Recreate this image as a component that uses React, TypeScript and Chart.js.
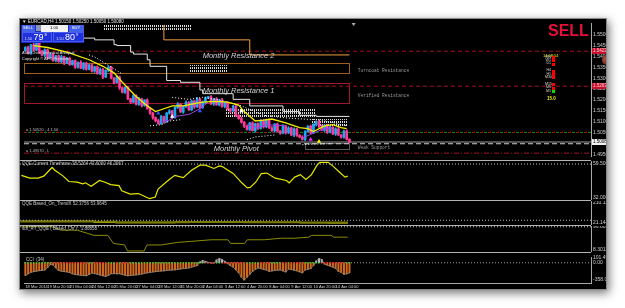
import React, { useEffect, useRef } from "react";
import { Chart, registerables } from "chart.js";

Chart.register(...registerables);

const SANS = '"Liberation Sans", "DejaVu Sans", Arial, sans-serif';
const MONO = '"Liberation Mono", "DejaVu Sans Mono", monospace';

// ---------------- shared time axis (H4 bar index) ----------------
const xMin = -0.5;
const xMax = 204.2;
const timeLabels = [
  "18 Mar 2014", "19 Mar 20:00", "21 Mar 04:00", "24 Mar 12:00", "25 Mar 20:00",
  "27 Mar 04:00", "28 Mar 12:00", "31 Mar 20:00", "2 Apr 04:00", "3 Apr 12:00",
  "4 Apr 20:00", "8 Apr 04:00", "9 Apr 12:00", "10 Apr 20:00", "14 Apr 04:00",
];
const timeLabelBars = [0, 8, 16, 24, 32, 40, 48, 56, 64, 72, 80, 88, 96, 104, 112];

// ---------------- price panel ----------------
const firstOpen = 1.5425;
const closes = [
  1.5440, 1.5415, 1.5452, 1.5428, 1.5460, 1.5420, 1.5405, 1.5430, 1.5392, 1.5410,
  1.5380, 1.5402, 1.5375, 1.5398, 1.5368, 1.5390, 1.5362, 1.5380, 1.5350, 1.5372,
  1.5345, 1.5368, 1.5340, 1.5360, 1.5332, 1.5352, 1.5320, 1.5340, 1.5305, 1.5335,
  1.5350, 1.5300, 1.5280, 1.5305, 1.5255, 1.5235, 1.5258, 1.5205, 1.5190, 1.5220,
  1.5180, 1.5205, 1.5175, 1.5200, 1.5160, 1.5140, 1.5120, 1.5105, 1.5092, 1.5125,
  1.5100, 1.5140, 1.5150, 1.5120, 1.5165, 1.5180, 1.5145, 1.5170, 1.5190, 1.5155,
  1.5195, 1.5168, 1.5205, 1.5165, 1.5190, 1.5210, 1.5215, 1.5182, 1.5205, 1.5178,
  1.5200, 1.5170, 1.5188, 1.5160, 1.5150, 1.5172, 1.5130, 1.5115, 1.5098, 1.5080,
  1.5065, 1.5095, 1.5060, 1.5092, 1.5070, 1.5105, 1.5078, 1.5110, 1.5072, 1.5060,
  1.5090, 1.5058, 1.5048, 1.5080, 1.5050, 1.5072, 1.5040, 1.5068, 1.5038, 1.5030,
  1.5020, 1.5055, 1.5080, 1.5050, 1.5088, 1.5102, 1.5078, 1.5062, 1.5085, 1.5052,
  1.5075, 1.5045, 1.5068, 1.5040, 1.5030, 1.5058, 1.5020, 1.5008,
];
// wick lengths in pips beyond the candle body
const wickUp = [
  4, 6, 3, 8, 5, 2, 7, 4, 3, 6, 5, 2, 4, 7, 3, 5, 6, 2, 4, 3,
  8, 4, 5, 3, 6, 2, 4, 7, 5, 3, 6, 4, 3, 8, 5, 4, 2, 6, 3, 5,
  4, 7, 3, 2, 5, 6, 4, 3, 7, 5, 2, 4, 6, 3, 5, 8, 4, 3, 6, 2,
  5, 4, 7, 3, 6, 4, 2, 5, 3, 6, 4, 8, 3, 5, 2, 4, 6, 3, 7, 4,
  5, 3, 6, 2, 4, 5, 7, 3, 4, 6, 2, 5, 3, 8, 4, 6, 3, 5, 2, 4,
  7, 5, 3, 6, 4, 2, 5, 8, 3, 4, 6, 3, 5, 7, 2, 4, 6, 3,
];
const wickDn = [
  3, 5, 7, 2, 4, 6, 3, 8, 5, 2, 4, 6, 3, 5, 7, 2, 4, 3, 6, 5,
  2, 7, 4, 3, 5, 6, 2, 4, 8, 3, 5, 4, 6, 2, 7, 3, 5, 4, 6, 2,
  3, 5, 7, 4, 2, 6, 8, 5, 3, 4, 6, 2, 5, 7, 3, 4, 2, 6, 5, 3,
  4, 7, 2, 5, 3, 6, 4, 3, 7, 2, 5, 3, 6, 4, 8, 2, 5, 3, 4, 6,
  3, 5, 2, 7, 4, 3, 6, 5, 2, 4, 7, 3, 5, 2, 6, 4, 3, 8, 5, 3,
  4, 6, 2, 5, 3, 7, 4, 2, 6, 5, 3, 4, 7, 2, 5, 6, 3, 4,
];
const priceMin = 1.4944;
const priceMax = 1.5552;
const priceTicks = [1.495, 1.5, 1.505, 1.51, 1.515, 1.52, 1.525, 1.53, 1.535, 1.54, 1.545, 1.55];

const monthlyR2 = 1.5423;
const monthlyR1 = 1.5263;
const monthlyPivot = 1.5;
const weeklyHigh = 1.5052;
const weeklyLow = 1.4957;
const bidPrice = 1.5008;

// zones: [fromBar, toBar, top, bottom]
const turncoatZone = [-0.5, 117, 1.5367, 1.5324];
const verifiedZone = [-0.5, 117, 1.5276, 1.5186];
const weakSupportZone = [101, 117, 1.5005, 1.4975];

const hatchFrom = [28, 59, 72, 103];
const hatchTo = [60, 73, 105, 116];
const hatchTop = [1.5548, 1.5362, 1.516, 1.5112];
const hatchBottom = [1.5518, 1.5332, 1.5125, 1.5074];

const maBars = [3, 8, 15, 23, 28, 32, 35, 40, 44, 47, 50, 53, 57, 60, 64, 68, 73, 77, 79, 83, 86, 89, 94, 99, 102, 104, 108, 111, 114, 116];
const maValues = [
  1.5449, 1.544, 1.5419, 1.5384, 1.5354, 1.5324, 1.5281, 1.5216, 1.5173, 1.5147,
  1.516, 1.5173, 1.5173, 1.5181, 1.519, 1.5194, 1.519, 1.5177, 1.5147, 1.5104,
  1.5108, 1.5113, 1.5095, 1.5074, 1.5069, 1.5056, 1.5082, 1.5087, 1.5074, 1.5069,
];

const stepBars = [14, 25, 32, 33, 38, 39, 44, 45, 51, 56, 63, 64, 75, 81, 93, 99, 105, 111, 117];
const stepValues = [
  1.5496, 1.5483, 1.5475, 1.5453, 1.5449, 1.5419, 1.541, 1.5384, 1.5354, 1.5289,
  1.5281, 1.5246, 1.5229, 1.5203, 1.5173, 1.5147, 1.513, 1.5125, 1.5125,
];
const orangeBars = [50, 81, 111, 117];
const orangeValues = [1.5543, 1.5475, 1.5406, 1.5406];

const purpleBars = [49, 52, 54, 59, 63, 66, 67, 80, 84, 87, 94, 95, 100, 103, 107, 111];
const purpleValues = [1.51, 1.5108, 1.5125, 1.5134, 1.516, 1.519, null, 1.5087, 1.5074, 1.5087, 1.5082, null, 1.5026, 1.5043, 1.5065, 1.5074];

const upperBandBars = [23, 25, 35, 44, 53, 59, 64, 69, 78, 86, 95, 107, 116];
const upperBandValues = [1.5406, 1.5397, 1.5319, null, 1.5212, 1.5203, 1.5212, 1.5203, 1.5173, 1.513, 1.5117, 1.5108, 1.5082];
const lowerBandBars = [45, 49, 52, 56, 60, 80, 83, 90, 95, 100, 110];
const lowerBandValues = [1.5082, 1.5087, 1.5104, 1.511, null, 1.5018, 1.5031, 1.504, null, 1.4996, 1.5];

const signalBars = [48, 53, 63, 78, 103, 106];
const signalValues = [1.514, 1.5125, 1.515, 1.515, 1.502, 1.501];
const signalColors = ["#3050ff", "#ffffff", "#3050ff", "#ffffff", "#ff20ff", "#ffff00"];

// ---------------- oscillator panels ----------------
const qqeBars = [0, 3, 6, 8, 11, 12, 15, 17, 20, 22, 23, 25, 28, 30, 32, 35, 36, 39, 42, 45, 46, 48, 49, 53, 55, 58, 61, 64, 66, 69, 71, 72, 76, 79, 81, 82, 84, 86, 88, 91, 95, 96, 98, 100, 102, 104, 106, 107, 110, 112, 114, 116, 117];
const qqeValues = [
  50.2, 47.9, 47.9, 49.6, 56.7, 54.4, 49.6, 45.2, 44.6, 43.2,
  44.1, 41.2, 46.0, 44.6, 42.6, 41.8, 37.6, 34.8, 35.3, 32.0,
  31.1, 32.5, 39.0, 46.8, 50.2, 48.3, 54.4, 58.6, 58.6, 55.9,
  58.0, 57.4, 51.6, 44.1, 39.9, 40.4, 44.6, 51.6, 52.1, 47.9,
  46.0, 44.1, 48.8, 50.8, 46.8, 50.8, 58.6, 60.9, 60.9, 57.2,
  53.0, 48.8, 49.6,
];
const qqeLevel = 59.5;

const qqe2FastBars = [0, 26, 34, 55, 60, 78, 86, 100, 110, 117];
const qqe2FastValues = [40, 34, 26, 22, 28, 24, 27, 25, 23, 20];
const qqe2SlowBars = [0, 26, 34, 60, 80, 100, 117];
const qqe2SlowValues = [38, 33, 30, 27, 28, 26, 24];
const qqe2Level = 45;

const qqeRtBars = [0, 11, 14, 20, 26, 31, 33, 37, 38, 44, 45, 50, 56, 61, 68, 74, 75, 80, 81, 87, 93, 98, 103, 104, 111, 112, 117];
const qqeRtValues = [97, 97, 84, 84, 64, 64, 33, 27, 4, 4, 27, 27, 37, 41, 47, 47, 33, 33, 47, 47, 53, 53, 57, 64, 64, 57, 57];
const qqeRtLevel = 97;

const cciValues = [
  -265, -230, -200, -185, -175, -165, -160, -150, -100, -40,
  -45, -110, -160, -175, -185, -190, -205, -230, -245, -250,
  -260, -265, -270, -245, -212, -225, -240, -255, -270, -285,
  -260, -228, -225, -230, -228, -245, -260, -270, -265, -258,
  -252, -245, -235, -220, -210, -200, -192, -185, -178, -172,
  -168, -160, -155, -150, -148, -138, -130, -120, -115, -108,
  -90, -75, -60, 20, 48, 30, 10, -5, -10, 60,
  90, 70, 30, -20, -60, -90, -150, -210, -300, -360,
  -300, -240, -180, -140, -108, -120, -140, -150, -180, -170,
  -160, -155, -150, -170, -192, -132, -140, -155, -168, -190,
  -210, -150, -135, -120, -60, 40, 90, 70, -30, -50,
  -70, -90, -120, -180, -200, -240, -230, -210,
];

// ---------------- styling ----------------
const AXIS = "#a8a8a8";
const TICK = "#d0d0d0";
const BULL = "#1ea7f0";
const BEAR = "#ff3a9a";
const PIP = 0.0001;

const pts = (xs: number[], ys: (number | null)[]) => xs.map((x, i) => ({ x, y: ys[i] }));
const hline = (v: number) => [{ x: xMin, y: v }, { x: xMax, y: v }];

function lineDs(data: any[], color: string, width = 1, extra: any = {}) {
  return {
    type: "line", data, borderColor: color, backgroundColor: color, borderWidth: width,
    pointRadius: 0, fill: false, tension: 0, spanGaps: false, ...extra,
  };
}

function yAxis(min: number, max: number, ticks: number[], decimals: number) {
  return {
    type: "linear", position: "right", min, max,
    grid: { display: false, drawTicks: false },
    border: { display: true, color: AXIS, width: 1 },
    ticks: {
      autoSkip: false, padding: 2, color: TICK, font: { size: 5, family: SANS },
      callback: (v: any) => Number(v).toFixed(decimals),
    },
    afterBuildTicks: (s: any) => { s.ticks = ticks.map((value) => ({ value })); },
    afterFit: (s: any) => { s.width = 15; s.paddingTop = 0; s.paddingBottom = 0; },
  };
}

const xHidden = () => ({ type: "linear", min: xMin, max: xMax, display: false, offset: false });

function baseOptions(scales: any) {
  return {
    animation: false, responsive: false, maintainAspectRatio: false, events: [],
    layout: { padding: 0 },
    plugins: { legend: { display: false }, tooltip: { enabled: false } },
    scales,
  };
}

const panelLabel = (text: string) => ({
  id: "panelLabel",
  afterDatasetsDraw(chart: any) {
    const { ctx, chartArea } = chart;
    ctx.save();
    ctx.font = `4.5px ${SANS}`;
    ctx.fillStyle = "#c8c8c8";
    ctx.textBaseline = "top";
    ctx.fillText(text, chartArea.left + 2, chartArea.top + 1);
    ctx.restore();
  },
});

// ---------------- main price chart ----------------
function buildMain() {
  const opens = closes.map((c, i) => (i === 0 ? firstOpen : closes[i - 1]));
  const highs = closes.map((c, i) => Math.max(opens[i], c) + (wickUp[i] ?? 3) * PIP);
  const lows = closes.map((c, i) => Math.min(opens[i], c) - (wickDn[i] ?? 3) * PIP);
  const colors = closes.map((c, i) => (c >= opens[i] ? BULL : BEAR));

  const decor = {
    id: "mainDecor",
    beforeDatasetsDraw(chart: any) {
      const { ctx, scales: { x, y } } = chart;
      ctx.save();
      const pc = document.createElement("canvas");
      pc.width = 2; pc.height = 3;
      const g = pc.getContext("2d")!;
      g.fillStyle = "#d8d8d8";
      g.fillRect(0, 0, 1, 2);
      const pat = ctx.createPattern(pc, "repeat");
      for (let k = 0; k < hatchFrom.length; k++) {
        const x0 = x.getPixelForValue(hatchFrom[k]);
        const x1 = x.getPixelForValue(hatchTo[k]);
        const y0 = y.getPixelForValue(hatchTop[k]);
        const y1 = y.getPixelForValue(hatchBottom[k]);
        ctx.fillStyle = pat;
        ctx.fillRect(Math.round(x0), Math.round(y0), Math.round(x1 - x0), Math.round(y1 - y0));
      }
      const box = (z: number[], color: string) => {
        const x0 = Math.round(x.getPixelForValue(z[0])) + 0.5;
        const x1 = Math.round(x.getPixelForValue(z[1])) + 0.5;
        const y0 = Math.round(y.getPixelForValue(z[2])) + 0.5;
        const y1 = Math.round(y.getPixelForValue(z[3])) + 0.5;
        ctx.strokeStyle = color;
        ctx.lineWidth = 1;
        ctx.strokeRect(x0, y0, x1 - x0, y1 - y0);
      };
      box(turncoatZone, "#a0601c");
      box(verifiedZone, "#a01830");
      box(weakSupportZone, "#5a5a5a");
      ctx.restore();
    },
    afterDatasetsDraw(chart: any) {
      const { ctx, scales: { x, y } } = chart;
      ctx.save();
      ctx.textBaseline = "middle";
      ctx.font = `italic 7.5px ${SANS}`;
      ctx.fillStyle = "#d4d4d4";
      ctx.fillText("Monthly Resistance 2", x.getPixelForValue(64), y.getPixelForValue(monthlyR2) + 5);
      ctx.fillText("Monthly Resistance 1", x.getPixelForValue(64), y.getPixelForValue(monthlyR1) + 5);
      ctx.fillText("Monthly Pivot", x.getPixelForValue(68), y.getPixelForValue(monthlyPivot) + 5);
      ctx.font = `4.5px ${MONO}`;
      ctx.fillStyle = "#9a9a9a";
      ctx.fillText("Turncoat Resistance", x.getPixelForValue(120), y.getPixelForValue(turncoatZone[3]) - 2);
      ctx.fillText("Verified Resistance", x.getPixelForValue(120), y.getPixelForValue(verifiedZone[3]) - 7);
      ctx.fillText("Weak Support", x.getPixelForValue(120), y.getPixelForValue(weakSupportZone[3]) - 1);
      ctx.font = `4px ${SANS}`;
      ctx.fillStyle = "#bdbdbd";
      ctx.fillText("a 1.50520 , 4 1.50", x.getPixelForValue(xMin) + 2, y.getPixelForValue(weeklyHigh) - 2);
      ctx.fillText("a 1.49570 , L", x.getPixelForValue(xMin) + 2, y.getPixelForValue(weeklyLow) - 2);
      ctx.restore();
    },
    afterDraw(chart: any) {
      const { ctx, chartArea, scales: { x, y } } = chart;
      ctx.save();
      const tag = (v: number, bg: string, fg: string) => {
        const py = Math.round(y.getPixelForValue(v));
        ctx.fillStyle = bg;
        ctx.fillRect(chartArea.right + 1, py - 3, 14, 6);
        ctx.fillStyle = fg;
        ctx.font = `4.5px ${SANS}`;
        ctx.textBaseline = "middle";
        ctx.fillText(v.toFixed(4), chartArea.right + 2, py);
      };
      tag(monthlyR2, "#c8102e", "#ffd0d0");
      tag(monthlyR1, "#c8102e", "#ffd0d0");
      tag(bidPrice, "#f0f0f0", "#000000");
      const cx = x.getPixelForValue(118.5);
      ctx.fillStyle = "#b0b0b0";
      ctx.beginPath();
      ctx.moveTo(cx - 2, chartArea.top);
      ctx.lineTo(cx + 2, chartArea.top);
      ctx.lineTo(cx, chartArea.top + 3);
      ctx.closePath();
      ctx.fill();
      ctx.restore();
    },
  };

  const datasets: any[] = [
    lineDs(hline(monthlyR2), "#a01020", 1, { borderDash: [4, 3], order: 30 }),
    lineDs(hline(monthlyR1), "#a01020", 1, { borderDash: [4, 3], order: 30 }),
    lineDs(hline(weeklyHigh), "#b01818", 1, { borderDash: [3, 5], order: 30 }),
    lineDs(hline(weeklyHigh), "#1a8a1a", 1, { borderDash: [3, 5], borderDashOffset: 4, order: 30 }),
    lineDs(hline(bidPrice), "#9a9a9a", 1, { order: 30 }),
    lineDs(hline(monthlyPivot), "#d0d0d0", 1, { borderDash: [5, 3], order: 30 }),
    lineDs(hline(weeklyLow), "#a01020", 1, { borderDash: [5, 2, 1, 2], order: 30 }),
    {
      type: "bar", data: closes.map((c, i) => ({ x: i, y: [lows[i], highs[i]] })),
      backgroundColor: colors, grouped: false, barPercentage: 1, categoryPercentage: 1,
      maxBarThickness: 1, order: 20,
    },
    {
      type: "bar", data: closes.map((c, i) => ({ x: i, y: [opens[i], c] })),
      backgroundColor: colors, grouped: false, barPercentage: 1, categoryPercentage: 1,
      maxBarThickness: 2, minBarLength: 1, order: 19,
    },
    lineDs(pts(stepBars, stepValues), "#e6e6e6", 1, { stepped: "after", order: 10 }),
    lineDs(pts(orangeBars, orangeValues), "#f0a040", 1, { stepped: "after", order: 10 }),
    lineDs(pts(upperBandBars, upperBandValues), "#ffffff", 1, { borderDash: [1, 2], order: 9 }),
    lineDs(pts(lowerBandBars, lowerBandValues), "#ffffff", 1, { borderDash: [1, 2], order: 9 }),
    lineDs(pts(purpleBars, purpleValues), "#a040e0", 1, { order: 5 }),
    lineDs(pts(maBars, maValues), "#f0f000", 1.3, { order: 4 }),
    {
      type: "line", data: pts(signalBars, signalValues), showLine: false, pointStyle: "triangle",
      pointRadius: 2.5, pointBackgroundColor: signalColors, pointBorderWidth: 0, order: 1,
    },
  ];

  return {
    type: "bar",
    data: { datasets },
    options: baseOptions({ x: xHidden(), y: yAxis(priceMin, priceMax, priceTicks, 4) }),
    plugins: [decor],
  };
}

function buildQqe() {
  return {
    type: "line",
    data: {
      datasets: [
        lineDs(hline(qqeLevel), "#c8c8c8", 1, { borderDash: [1, 2] }),
        lineDs(pts(qqeBars, qqeValues), "#e8e800", 1.2),
      ],
    },
    options: baseOptions({ x: xHidden(), y: yAxis(30, 62, [59.5, 32.0], 4) }),
    plugins: [panelLabel("QQE Current Timeframe 38.5264 43.6000 46.3967")],
  };
}

function buildQqe2() {
  return {
    type: "line",
    data: {
      datasets: [
        lineDs(hline(qqe2Level), "#b8b8b8", 1, { borderDash: [1, 2] }),
        lineDs(pts(qqe2SlowBars, qqe2SlowValues), "#7a7a00", 2, { stepped: "after" }),
        lineDs(pts(qqe2FastBars, qqe2FastValues), "#f0f000", 1.2, { stepped: "after" }),
      ],
    },
    options: baseOptions({ x: xHidden(), y: yAxis(0, 230, [210.117, 21.1447], 4) }),
    plugins: [panelLabel("QQE Based_On_TrendX 52.3756 53.9645")],
  };
}

function buildQqeRt() {
  return {
    type: "line",
    data: {
      datasets: [
        lineDs(hline(qqeRtLevel), "#c8c8c8", 1, { borderDash: [1, 2] }),
        lineDs(pts(qqeRtBars, qqeRtValues), "#8c8c00", 1),
      ],
    },
    options: baseOptions({ x: xHidden(), y: yAxis(0, 100, [96.8026, 8.3011], 4) }),
    plugins: [panelLabel("sdf_RT_QQE ( Based_On ) : 1.86858")],
  };
}

function buildCci() {
  const markColors = cciValues.map((v, i) => (i === 0 || v >= cciValues[i - 1] ? "#20e020" : "#ff2020"));
  const xAxis = {
    type: "linear", min: xMin, max: xMax, position: "bottom", offset: false,
    grid: { display: true, drawOnChartArea: false, drawTicks: true, tickLength: 1, color: AXIS },
    border: { display: true, color: AXIS },
    ticks: {
      autoSkip: false, maxRotation: 0, padding: 0, align: "start", color: TICK,
      font: { size: 4, family: SANS },
      callback: (v: any) => {
        const k = timeLabelBars.indexOf(Number(v));
        return k >= 0 ? timeLabels[k] : "";
      },
    },
    afterBuildTicks: (s: any) => { s.ticks = timeLabelBars.map((value) => ({ value })); },
    afterFit: (s: any) => { s.height = 5; s.paddingLeft = 0; s.paddingRight = 0; },
  };
  return {
    type: "bar",
    data: {
      datasets: [
        lineDs(hline(0), "#9a9a9a", 1, { borderDash: [1, 2], order: 30 }),
        {
          type: "bar", data: cciValues.map((v, i) => ({ x: i, y: v })),
          backgroundColor: cciValues.map((v) => (v < 0 ? "#d2691e" : "#b8b8b8")),
          grouped: false, barPercentage: 1, categoryPercentage: 1, maxBarThickness: 1.4, order: 20,
        },
        lineDs(cciValues.map((v, i) => ({ x: i, y: v })), "#8a8a8a", 0.8, { order: 10 }),
        {
          type: "line", data: cciValues.map((v, i) => ({ x: i, y: 0 })), showLine: false,
          pointStyle: "rect", pointRadius: 0.9, pointBorderWidth: 0,
          pointBackgroundColor: markColors, order: 1,
        },
      ],
    },
    options: baseOptions({ x: xAxis, y: yAxis(-420, 120, [101.49, 0, -358.025], 2) }),
    plugins: [panelLabel("CCI  (34)")],
  };
}

function Panel({ top, height, build }: { top: number; height: number; build: () => any }) {
  const ref = useRef<HTMLCanvasElement>(null);
  useEffect(() => {
    const chart = new Chart(ref.current as HTMLCanvasElement, build());
    return () => chart.destroy();
  }, []);
  return (
    <canvas
      ref={ref}
      width={586}
      height={height}
      style={{ position: "absolute", left: 0, top, width: 586, height, display: "block" }}
    />
  );
}

const Sep = ({ top }: { top: number }) => (
  <div style={{ position: "absolute", left: 0, top, width: 571, height: 1, background: "#b4b4b4" }} />
);

const signalRows = ["MN", "W1", "D1", "H4", "H1", "M30", "M15", "M5", "M1"];
const signalRowY = [38.5, 41.8, 45, 52, 55.3, 58.8, 65.7, 69, 72.3];

const txt = (extra: any): any => ({
  position: "absolute", whiteSpace: "nowrap", lineHeight: 1, fontFamily: SANS, ...extra,
});

export default function App() {
  return (
    <div
      style={{
        position: "absolute", left: 19, top: 18, width: 588, height: 272, boxSizing: "border-box",
        border: "1px solid #8a8a8a", background: "#000", overflow: "hidden",
        boxShadow: "2px 3px 9px rgba(0,0,0,0.55)",
      }}
    >
      <Panel top={0} height={141} build={buildMain} />
      <Sep top={141} />
      <Panel top={142} height={39} build={buildQqe} />
      <Sep top={181} />
      <Panel top={182} height={24} build={buildQqe2} />
      <Sep top={206} />
      <Panel top={207} height={26} build={buildQqeRt} />
      <Sep top={233} />
      <Panel top={234} height={35} build={buildCci} />

      {/* chart title */}
      <div style={txt({ left: 2, top: 1, fontSize: 4.5, color: "#e6e6e6" })}>
        ▼ EURCAD,H4  1.50150 1.50250 1.50050 1.50080
      </div>

      {/* one-click trading panel */}
      <div style={{ position: "absolute", left: 1, top: 5.5, width: 63, height: 18, background: "#1a2bc4" }}>
        <div style={txt({ left: 0.5, top: 0.5, width: 13, height: 6, background: "#4460e6", color: "#fff", fontSize: 4, textAlign: "center", paddingTop: 1 })}>SELL</div>
        <div style={{ position: "absolute", left: 14.5, top: 0.5, width: 5, height: 6, background: "#8a93b8" }} />
        <div style={txt({ left: 19.5, top: 0.5, width: 27, height: 6, background: "#f2f2f2", color: "#000", fontSize: 4, textAlign: "center", paddingTop: 1 })}>1.00</div>
        <div style={txt({ left: 47.5, top: 0.5, width: 15, height: 6, background: "#4460e6", color: "#fff", fontSize: 4, textAlign: "center", paddingTop: 1 })}>BUY</div>
        <div style={{ position: "absolute", left: 0.5, top: 7.5, width: 30, height: 10, background: "#1f30dc", boxShadow: "inset 0 0 0 1px #4a5cf0" }}>
          <span style={txt({ left: 3, top: 5, fontSize: 4, color: "#dde" })}>1.50</span>
          <span style={txt({ left: 12, top: 1, fontSize: 9, color: "#fff" })}>79</span>
          <span style={txt({ left: 23, top: 1, fontSize: 4, color: "#fff" })}>8</span>
        </div>
        <div style={{ position: "absolute", left: 32, top: 7.5, width: 31, height: 10, background: "#1f30dc", boxShadow: "inset 0 0 0 1px #4a5cf0" }}>
          <span style={txt({ left: 3, top: 5, fontSize: 4, color: "#dde" })}>1.50</span>
          <span style={txt({ left: 12, top: 1, fontSize: 9, color: "#fff" })}>80</span>
          <span style={txt({ left: 23, top: 1, fontSize: 4, color: "#fff" })}>9</span>
        </div>
      </div>
      <div style={txt({ left: 2, top: 32, fontSize: 4, color: "#e0e0e0" })}>Auto Chart Technical Analysis</div>
      <div style={txt({ left: 2, top: 37.5, fontSize: 4, color: "#e0e0e0" })}>Copyright © AFO Premium</div>

      {/* signal */}
      <div style={txt({ left: 528, top: 4.2, fontSize: 16, fontWeight: "bold", color: "#e8103a" })}>SELL</div>
      <div style={txt({ left: 523, top: 35, fontSize: 4, color: "#f0f000" })}>14:08:54</div>
      {signalRows.map((r, i) => (
        <React.Fragment key={r}>
          <div style={txt({ left: 525, top: signalRowY[i] - 1.8, width: 6, fontSize: 3.6, color: "#d8d8d8", textAlign: "right" })}>{r}</div>
          <div style={{ position: "absolute", left: 532, top: signalRowY[i] - 1.5, width: 3, height: 3, background: i === 8 ? "#00e000" : "#ff0000" }} />
        </React.Fragment>
      ))}
      <div style={txt({ left: 527, top: 77.5, fontSize: 4.5, color: "#f0f000", fontWeight: "bold" })}>15.0</div>
      <div style={{ position: "absolute", left: 582, top: 36, width: 10, height: 10, borderRadius: "50%", background: "radial-gradient(circle at 30% 40%, #a85040, #4a1a14)" }} />
    </div>
  );
}
